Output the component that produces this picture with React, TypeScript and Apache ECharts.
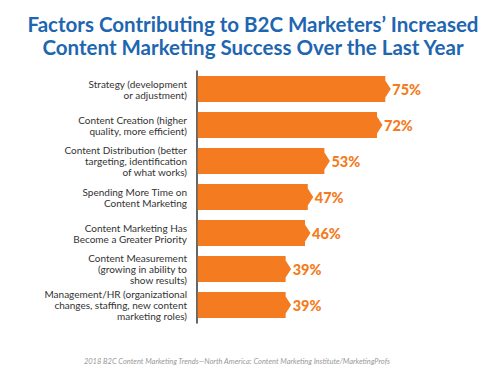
import React, { useEffect, useRef } from "react";
import * as echarts from "echarts";

const categories = [
  "Strategy (development\nor adjustment)",
  "Content Creation (higher\nquality, more efficient)",
  "Content Distribution (better\ntargeting, identification\nof what works)",
  "Spending More Time on\nContent Marketing",
  "Content Marketing Has\nBecome a Greater Priority",
  "Content Measurement\n(growing in ability to\nshow results)",
  "Management/HR (organizational\nchanges, staffing, new content\nmarketing roles)",
];
const values = [75, 72, 53, 47, 46, 39, 39];
const titleText = "Factors Contributing to B2C Marketers\u2019 Increased\nContent Marketing Success Over the Last Year";
const sourceText = "2018 B2C Content Marketing Trends\u2014North America: Content Marketing Institute/MarketingProfs";

const X_MIN = 5;
const X_MAX = 100;
const ORANGE = "#F47B20";

export default function App() {
  const ref = useRef<HTMLDivElement>(null);
  useEffect(() => {
    if (!ref.current) return;
    const chart = echarts.init(ref.current, undefined, { renderer: "svg" });
    chart.setOption({
      animation: false,
      backgroundColor: "#ffffff",
      graphic: [
        {
          type: "text",
          x: 253,
          y: 13,
          style: {
            text: titleText,
            align: "center",
            verticalAlign: "top",
            fontFamily: "Lato",
            fontWeight: "bold",
            fontSize: 20.5,
            lineHeight: 22.5,
            fill: "#1E66B0",
          },
        },
        {
          type: "text",
          x: 237,
          y: 361,
          style: {
            text: sourceText,
            align: "center",
            verticalAlign: "middle",
            fontFamily: "Lato",
            fontStyle: "italic",
            fontSize: 7.5,
            fill: "#9a9a9a",
          },
        },
      ],
      grid: { left: 197, right: 37, top: 71, bottom: 54, containLabel: false },
      xAxis: {
        type: "value",
        min: X_MIN,
        max: X_MAX,
        show: false,
      },
      yAxis: {
        type: "category",
        data: categories,
        inverse: true,
        axisLine: { show: true, onZero: false, lineStyle: { color: "#333333", width: 1.5 } },
        axisTick: { show: false },
        axisLabel: {
          margin: 10,
          fontFamily: "Lato",
          fontSize: 10,
          lineHeight: 11,
          color: "#333333",
          align: "right",
        },
      },
      series: [
        {
          type: "custom",
          data: values.map((v, i) => [i, v]),
          encode: { x: 1, y: 0 },
          clip: false,
          renderItem: (params: any, api: any) => {
            const idx = api.value(0);
            const v = api.value(1);
            const start = api.coord([X_MIN, idx]);
            const end = api.coord([v, idx]);
            const band = api.size([0, 1])[1];
            const h = band * 0.72;
            const tip = 5.5;
            const ah = h * 0.33;
            const x0 = start[0] + 0.75;
            const x1 = end[0] - tip;
            const y = end[1];
            return {
              type: "group",
              children: [
                {
                  type: "polygon",
                  shape: {
                    points: [
                      [x0, y - h / 2],
                      [x1, y - h / 2],
                      [x1, y - ah],
                      [end[0], y],
                      [x1, y + ah],
                      [x1, y + h / 2],
                      [x0, y + h / 2],
                    ],
                  },
                  style: { fill: ORANGE },
                },
                {
                  type: "text",
                  style: {
                    text: v + "%",
                    x: end[0] + 1.5,
                    y: y,
                    verticalAlign: "middle",
                    align: "left",
                    fill: ORANGE,
                    fontFamily: "Lato",
                    fontWeight: 900,
                    fontSize: 14.5,
                  },
                },
              ],
            };
          },
        },
      ],
    });
    return () => chart.dispose();
  }, []);
  return (
    <div
      ref={ref}
      style={{ position: "fixed", left: 0, top: 0, width: 497, height: 377 }}
    />
  );
}
